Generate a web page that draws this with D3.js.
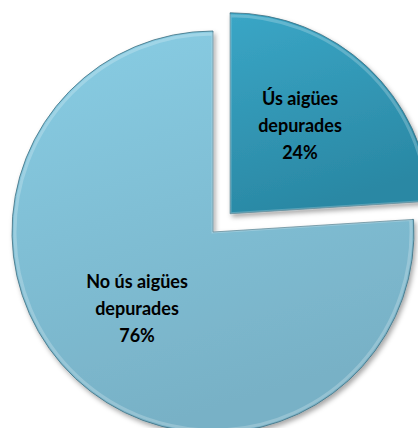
<!DOCTYPE html>
<html><head><meta charset="utf-8">
<script src="https://cdn.jsdelivr.net/npm/d3@7"></script>
<style>html,body{margin:0;padding:0;background:#fff;}svg{display:block;}</style>
</head><body>
<svg id="chart" width="418" height="428"></svg>
<script>
const categories = ["Ús aigües depurades", "No ús aigües depurades"];
const labelLines = [["Ús aigües", "depurades"], ["No ús aigües", "depurades"]];
const values = [24, 76];
const exploded = [true, false];

const svg = d3.select("#chart");
const cx = 213, cy = 232, R = 201, explode = 25;

const defs = svg.append("defs");
const f = defs.append("filter").attr("id","sh").attr("x","-20%").attr("y","-20%").attr("width","140%").attr("height","140%");
f.append("feDropShadow").attr("dx",2).attr("dy",3).attr("stdDeviation",2.5).attr("flood-color","#000").attr("flood-opacity",0.35);

const lin = [["l0","#3aa6c6","#2a88a4"],["l1","#88cde4","#78b1c6"]];
lin.forEach(([id,a,b]) => {
  const g = defs.append("linearGradient").attr("id",id).attr("x1",0).attr("y1",0).attr("x2",0.3).attr("y2",1);
  g.append("stop").attr("offset","0%").attr("stop-color",a);
  g.append("stop").attr("offset","100%").attr("stop-color",b);
});

const pie = d3.pie().sort(null).value(d => d)(values);
const arc = d3.arc().innerRadius(0).outerRadius(R);
const color = ["url(#l0)", "url(#l1)"];

const g = svg.append("g").attr("transform", `translate(${cx},${cy})`);
const slices = g.selectAll("g.slice").data(pie).join("g").attr("class","slice")
  .attr("transform", (d,i) => {
    if (!exploded[i]) return null;
    const m = (d.startAngle + d.endAngle) / 2;
    return `translate(${Math.sin(m)*explode},${-Math.cos(m)*explode})`;
  });
slices.append("path").attr("d", arc).attr("fill", (d,i) => color[i])
  .attr("stroke", "#3d6f80").attr("stroke-width", 0.8).attr("filter","url(#sh)");
slices.append("path").attr("d", d3.arc().innerRadius(0).outerRadius(R-3))
  .attr("fill","none").attr("stroke","rgba(255,255,255,0.22)").attr("stroke-width",3);

const labelPos = [[300, 100], [137, 283]];
slices.each(function(d,i){
  const sel = d3.select(this);
  const lines = labelLines[i].concat([values[i] + "%"]);
  const m = (d.startAngle+d.endAngle)/2;
  const base = [labelPos[i][0]-cx - (exploded[i]? Math.sin(m)*explode:0),
                labelPos[i][1]-cy + (exploded[i]? Math.cos(m)*explode:0)];
  lines.forEach((t,k) => {
    sel.append("text").attr("x", base[0]).attr("y", base[1] + k*27)
      .attr("text-anchor","middle").attr("dominant-baseline","middle")
      .style("font-family","Lato, 'Liberation Sans', sans-serif").style("font-weight","bold")
      .style("font-size","18px").attr("fill","#000").text(t);
  });
});
</script>
</body></html>
